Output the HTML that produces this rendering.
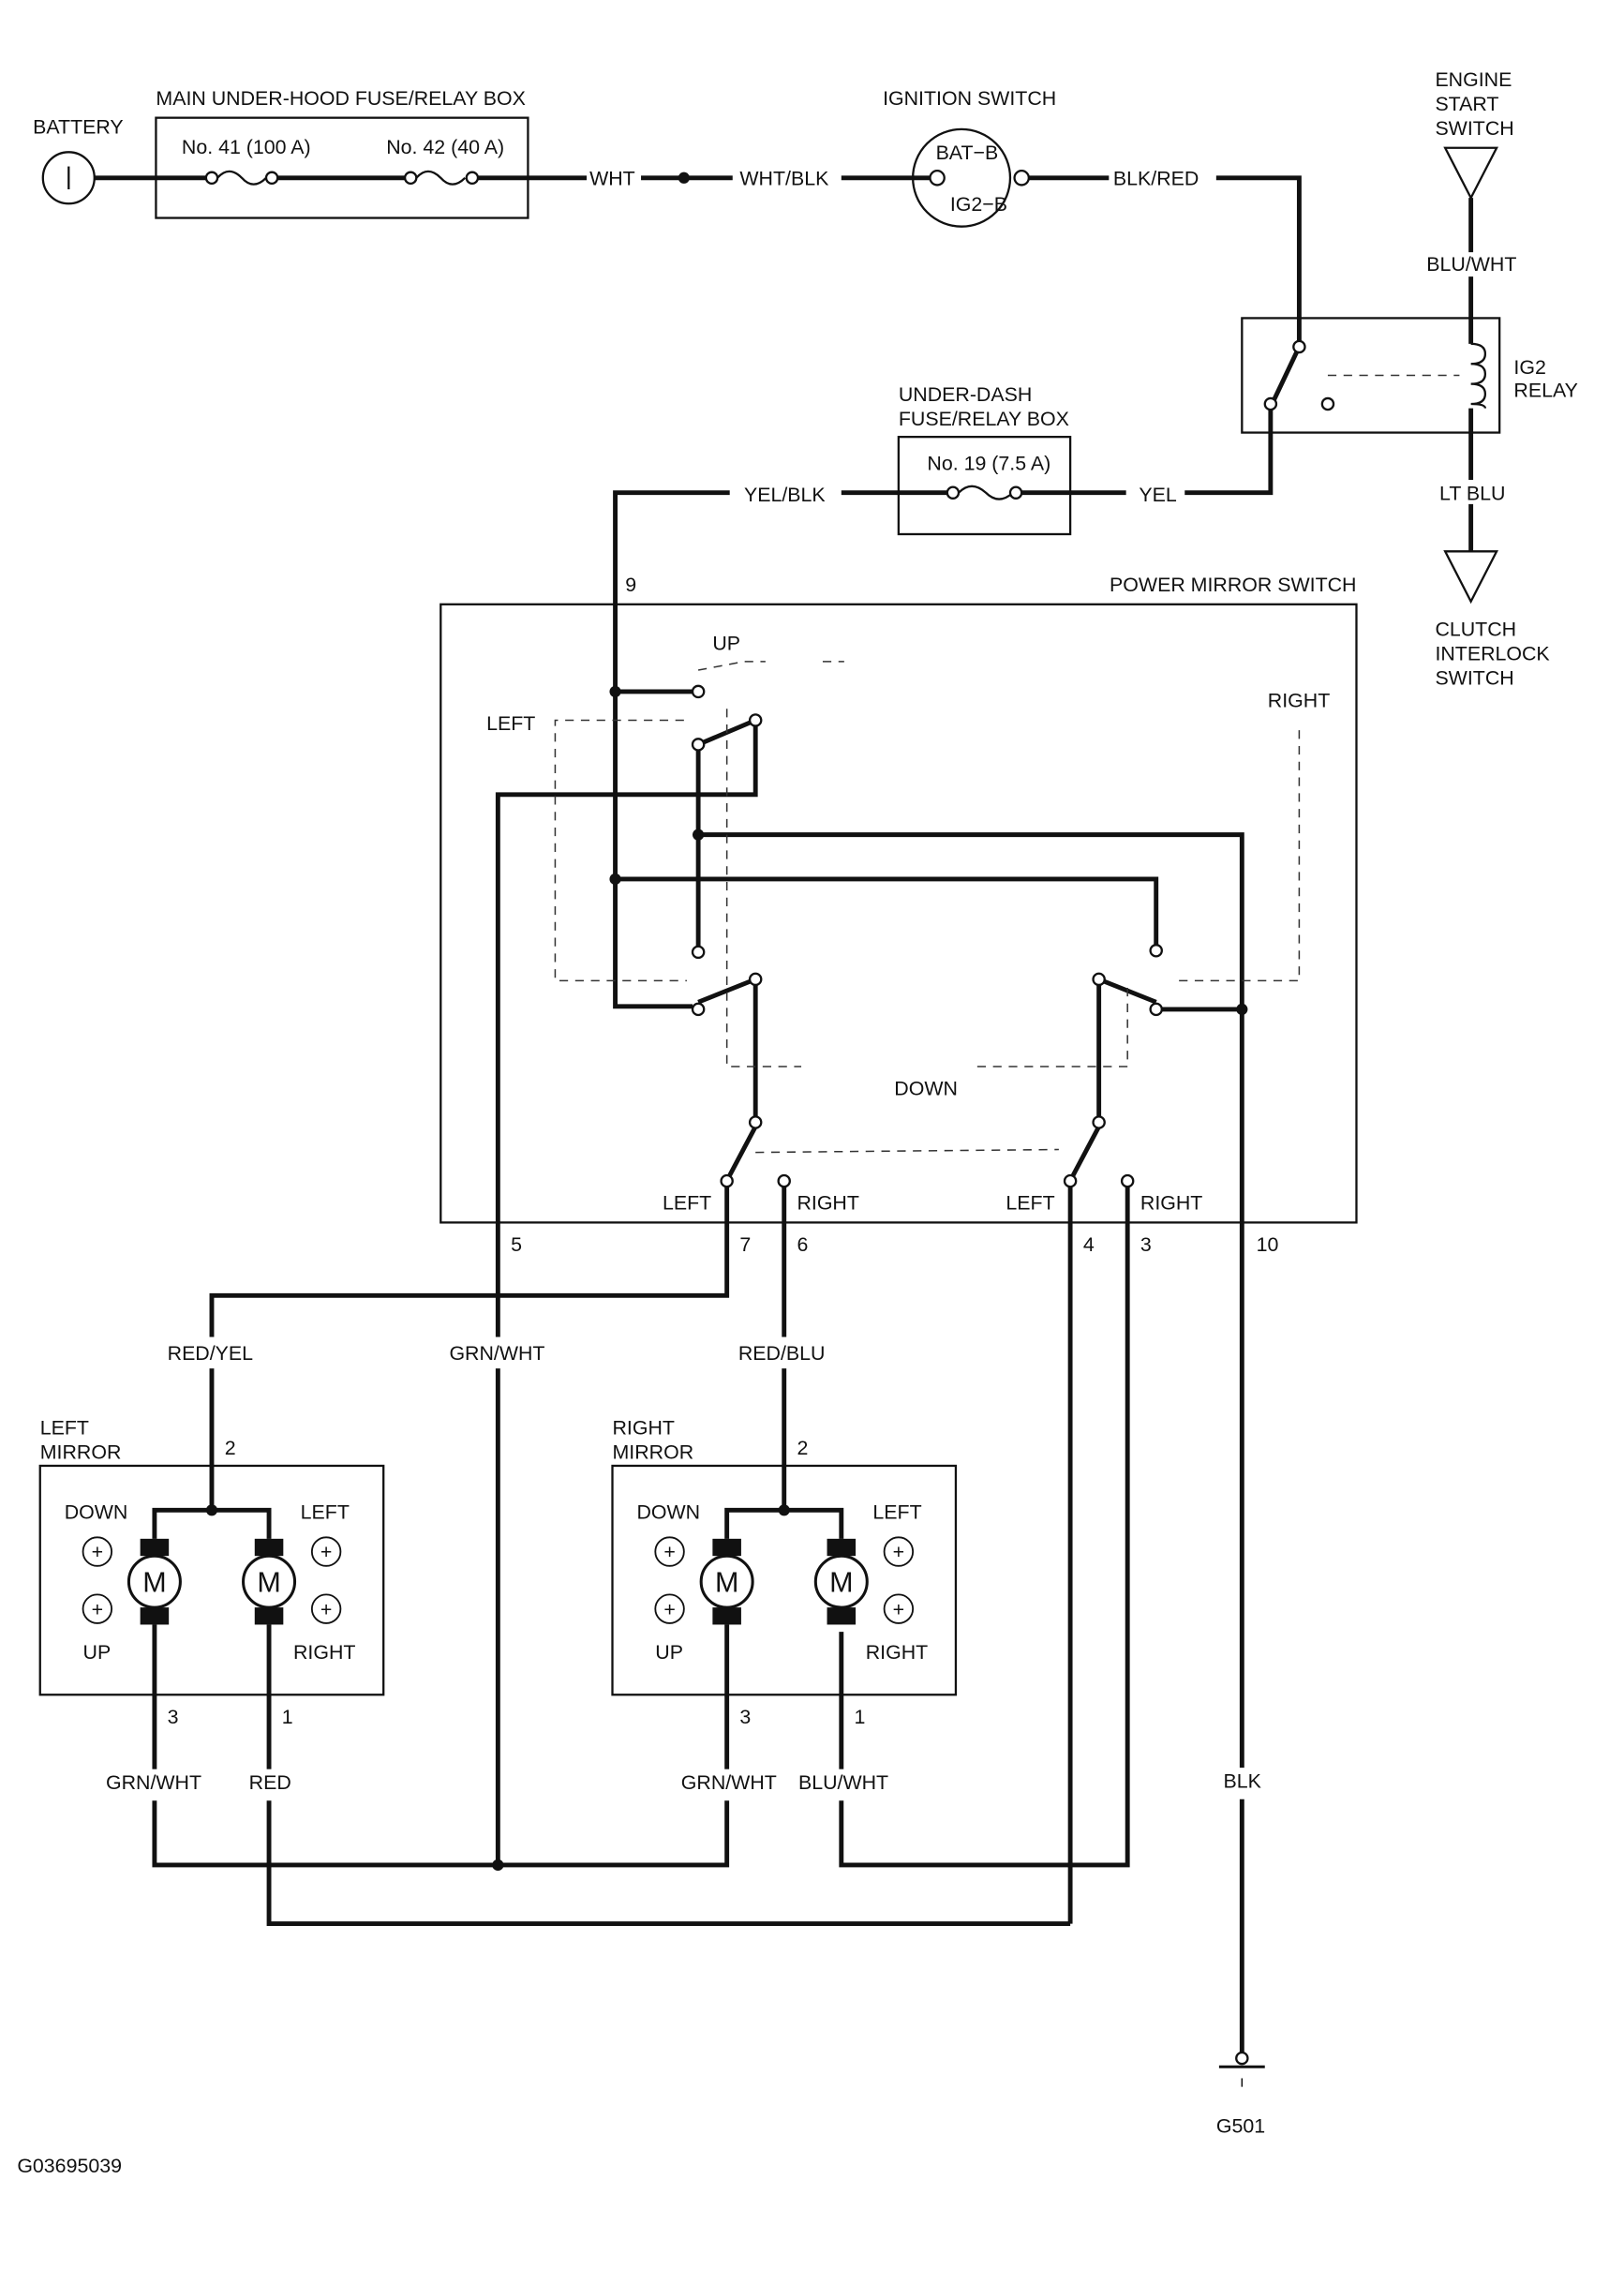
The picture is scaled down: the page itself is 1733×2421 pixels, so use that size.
<!DOCTYPE html>
<html><head><meta charset="utf-8"><style>
html,body{margin:0;padding:0;background:#fff}
svg{display:block}
text{font-family:"Liberation Sans",sans-serif;font-size:14px;fill:#111}
</style></head><body>
<svg width="1733" height="2421" viewBox="0 0 1135 1585" xmlns="http://www.w3.org/2000/svg">
<g fill="none" stroke="#111" stroke-width="3.2">
<line x1="66" y1="124" x2="148" y2="124"/>
<line x1="190" y1="124" x2="287" y2="124"/>
<line x1="330" y1="124" x2="410" y2="124"/>
<line x1="448" y1="124" x2="512" y2="124"/>
<line x1="588" y1="124" x2="650" y2="124"/>
<line x1="716" y1="124" x2="775" y2="124"/>
<polyline points="850,124 908,124 908,238"/>
<polyline points="888,286 888,344 828,344"/>
<line x1="748" y1="344" x2="787" y2="344"/>
<line x1="710" y1="344" x2="748" y2="344"/>
<line x1="588" y1="344" x2="666" y2="344"/>
<polyline points="510,344 430,344 430,703 484,703"/>
<line x1="1028" y1="138" x2="1028" y2="176"/>
<line x1="1028" y1="193" x2="1028" y2="240"/>
<line x1="1028" y1="285" x2="1028" y2="335"/>
<line x1="1028" y1="352" x2="1028" y2="385"/>
<line x1="430" y1="483" x2="484" y2="483"/>
<polyline points="528,507 528,555 348,555 348,1303"/>
<line x1="488" y1="524" x2="488" y2="661"/>
<polyline points="488,583 868,583 868,1435"/>
<polyline points="430,614 808,614 808,660"/>
<line x1="812" y1="705" x2="868" y2="705"/>
<line x1="528" y1="688" x2="528" y2="780"/>
<line x1="768" y1="688" x2="768" y2="780"/>
<line x1="488" y1="520" x2="528" y2="503"/>
<line x1="488" y1="700" x2="528" y2="684"/>
<line x1="768" y1="684" x2="808" y2="700"/>
<line x1="908" y1="242" x2="890" y2="280"/>
<line x1="528" y1="787" x2="510" y2="821"/>
<line x1="768" y1="787" x2="750" y2="821"/>
<polyline points="508,829 508,905 148,905 148,1055"/>
<line x1="548" y1="829" x2="548" y2="1055"/>
<line x1="748" y1="829" x2="748" y2="1344"/>
<polyline points="788,829 788,1303 588,1303 588,1140"/>
<polyline points="108,1075 108,1055 188,1055 188,1075"/>
<polyline points="508,1075 508,1055 588,1055 588,1075"/>
<polyline points="108,1135 108,1303 508,1303 508,1135"/>
<polyline points="188,1135 188,1344 748,1344"/>
<line x1="852" y1="1444" x2="884" y2="1444" stroke-width="2"/>
<line x1="868" y1="1452" x2="868" y2="1458" stroke-width="1"/>
</g>
<g fill="#fff">
<rect x="112" y="934" width="66" height="22"/>
<rect x="310" y="934" width="72" height="22"/>
<rect x="512" y="934" width="66" height="22"/>
<rect x="70" y="1236" width="72" height="22"/>
<rect x="170" y="1236" width="36" height="22"/>
<rect x="472" y="1236" width="72" height="22"/>
<rect x="554" y="1236" width="66" height="22"/>
<rect x="850" y="1235" width="34" height="22"/>
</g>
<g fill="none" stroke="#111" stroke-width="1.5">
<rect x="109" y="82" width="260" height="70"/>
<rect x="628" y="305" width="120" height="68"/>
<rect x="868" y="222" width="180" height="80"/>
<rect x="308" y="422" width="640" height="432"/>
<rect x="28" y="1024" width="240" height="160"/>
<rect x="428" y="1024" width="240" height="160"/>
<circle cx="48" cy="124" r="18"/>
<line x1="48" y1="116" x2="48" y2="132"/>
<circle cx="672" cy="124" r="34"/>
<polygon points="1010,103 1046,103 1028,138"/>
<polygon points="1010,385 1046,385 1028,420"/>
<path d="M152,124 q8,-9 17,0 q8,9 17,0"/>
<path d="M291,124 q8,-9 17,0 q8,9 17,0"/>
<path d="M670,344 q9,-9 19,0 q9,9 19,0"/>
<path d="M1028,240 q10,0 10,7 q0,7 -10,7 q10,0 10,7 q0,7 -10,7 q10,0 10,7 q0,7 -10,7 q10,0 10,3"/>
</g>
<g fill="#fff" stroke="#111" stroke-width="1.5">
<circle cx="148" cy="124" r="4"/><circle cx="190" cy="124" r="4"/>
<circle cx="287" cy="124" r="4"/><circle cx="330" cy="124" r="4"/>
<circle cx="666" cy="344" r="4"/><circle cx="710" cy="344" r="4"/>
<circle cx="655" cy="124" r="5"/><circle cx="714" cy="124" r="5"/>
<circle cx="908" cy="242" r="4"/><circle cx="888" cy="282" r="4"/><circle cx="928" cy="282" r="4"/>
<circle cx="488" cy="483" r="4"/><circle cx="528" cy="503" r="4"/><circle cx="488" cy="520" r="4"/>
<circle cx="488" cy="665" r="4"/><circle cx="528" cy="684" r="4"/><circle cx="488" cy="705" r="4"/>
<circle cx="768" cy="684" r="4"/><circle cx="808" cy="664" r="4"/><circle cx="808" cy="705" r="4"/>
<circle cx="528" cy="784" r="4"/><circle cx="508" cy="825" r="4"/><circle cx="548" cy="825" r="4"/>
<circle cx="768" cy="784" r="4"/><circle cx="748" cy="825" r="4"/><circle cx="788" cy="825" r="4"/>
<circle cx="868" cy="1438" r="4"/>
</g>
<g fill="#111">
<circle cx="478" cy="124" r="4"/><circle cx="430" cy="483" r="4"/><circle cx="430" cy="614" r="4"/>
<circle cx="488" cy="583" r="4"/><circle cx="868" cy="705" r="4"/><circle cx="148" cy="1055" r="4"/>
<circle cx="548" cy="1055" r="4"/><circle cx="348" cy="1303" r="4"/>
<rect x="98" y="1075" width="20" height="12"/><rect x="98" y="1123" width="20" height="12"/>
<rect x="178" y="1075" width="20" height="12"/><rect x="178" y="1123" width="20" height="12"/>
<rect x="498" y="1075" width="20" height="12"/><rect x="498" y="1123" width="20" height="12"/>
<rect x="578" y="1075" width="20" height="12"/><rect x="578" y="1123" width="20" height="12"/>
</g>
<g fill="#fff" stroke="#111" stroke-width="2">
<circle cx="108" cy="1105" r="18"/><circle cx="188" cy="1105" r="18"/>
<circle cx="508" cy="1105" r="18"/><circle cx="588" cy="1105" r="18"/>
</g>
<g fill="none" stroke="#111" stroke-width="1.2">
<circle cx="68" cy="1084" r="10"/><circle cx="68" cy="1124" r="10"/><circle cx="228" cy="1084" r="10"/><circle cx="228" cy="1124" r="10"/>
<circle cx="468" cy="1084" r="10"/><circle cx="468" cy="1124" r="10"/><circle cx="628" cy="1084" r="10"/><circle cx="628" cy="1124" r="10"/>
</g>
<g font-size="16" text-anchor="middle">
<text x="68" y="1089">+</text><text x="68" y="1129">+</text><text x="228" y="1089">+</text><text x="228" y="1129">+</text>
<text x="468" y="1089">+</text><text x="468" y="1129">+</text><text x="628" y="1089">+</text><text x="628" y="1129">+</text>
<text x="108" y="1112" style="font-size:20px">M</text><text x="188" y="1112" style="font-size:20px">M</text>
<text x="508" y="1112" style="font-size:20px">M</text><text x="588" y="1112" style="font-size:20px">M</text>
</g>
<g fill="none" stroke="#333" stroke-width="1" stroke-dasharray="6,5">
<polyline points="488,468 520,462 535,462"/><line x1="575" y1="462" x2="590" y2="462"/>
<polyline points="478,503 388,503 388,685 480,685"/>
<polyline points="508,495 508,745 560,745"/>
<polyline points="908,510 908,685 820,685"/>
<polyline points="788,690 788,745 680,745"/>
<line x1="928" y1="262" x2="1020" y2="262"/>
<line x1="528" y1="805" x2="740" y2="803"/>
</g>
<text x="23" y="93">BATTERY</text>
<text x="109" y="73">MAIN UNDER-HOOD FUSE/RELAY BOX</text>
<text x="127" y="107">No. 41 (100 A)</text>
<text x="270" y="107">No. 42 (40 A)</text>
<text x="412" y="129">WHT</text>
<text x="517" y="129">WHT/BLK</text>
<text x="617" y="73">IGNITION SWITCH</text>
<text x="654" y="111">BAT−B</text>
<text x="664" y="147">IG2−B</text>
<text x="778" y="129">BLK/RED</text>
<text x="1003" y="60">ENGINE</text><text x="1003" y="77">START</text><text x="1003" y="94">SWITCH</text>
<text x="997" y="189">BLU/WHT</text>
<text x="1058" y="261">IG2</text><text x="1058" y="277">RELAY</text>
<text x="1006" y="349">LT BLU</text>
<text x="1003" y="444">CLUTCH</text><text x="1003" y="461">INTERLOCK</text><text x="1003" y="478">SWITCH</text>
<text x="628" y="280">UNDER-DASH</text><text x="628" y="297">FUSE/RELAY BOX</text>
<text x="648" y="328">No. 19 (7.5 A)</text>
<text x="520" y="350">YEL/BLK</text>
<text x="796" y="350">YEL</text>
<text x="437" y="413">9</text>
<text x="948" y="413" text-anchor="end">POWER MIRROR SWITCH</text>
<text x="498" y="454">UP</text>
<text x="340" y="510">LEFT</text>
<text x="886" y="494">RIGHT</text>
<text x="625" y="765">DOWN</text>
<text x="463" y="845">LEFT</text><text x="557" y="845">RIGHT</text>
<text x="703" y="845">LEFT</text><text x="797" y="845">RIGHT</text>
<text x="357" y="874">5</text><text x="517" y="874">7</text><text x="557" y="874">6</text>
<text x="757" y="874">4</text><text x="797" y="874">3</text><text x="878" y="874">10</text>
<text x="117" y="950">RED/YEL</text><text x="314" y="950">GRN/WHT</text><text x="516" y="950">RED/BLU</text>
<text x="28" y="1002">LEFT</text><text x="28" y="1019">MIRROR</text>
<text x="428" y="1002">RIGHT</text><text x="428" y="1019">MIRROR</text>
<text x="157" y="1016">2</text><text x="557" y="1016">2</text>
<text x="45" y="1061">DOWN</text><text x="210" y="1061">LEFT</text>
<text x="58" y="1159">UP</text><text x="205" y="1159">RIGHT</text>
<text x="445" y="1061">DOWN</text><text x="610" y="1061">LEFT</text>
<text x="458" y="1159">UP</text><text x="605" y="1159">RIGHT</text>
<text x="117" y="1204">3</text><text x="197" y="1204">1</text>
<text x="517" y="1204">3</text><text x="597" y="1204">1</text>
<text x="74" y="1250">GRN/WHT</text><text x="174" y="1250">RED</text>
<text x="476" y="1250">GRN/WHT</text><text x="558" y="1250">BLU/WHT</text>
<text x="855" y="1249">BLK</text>
<text x="850" y="1490">G501</text>
<text x="12" y="1518">G03695039</text>
</svg>
</body></html>
